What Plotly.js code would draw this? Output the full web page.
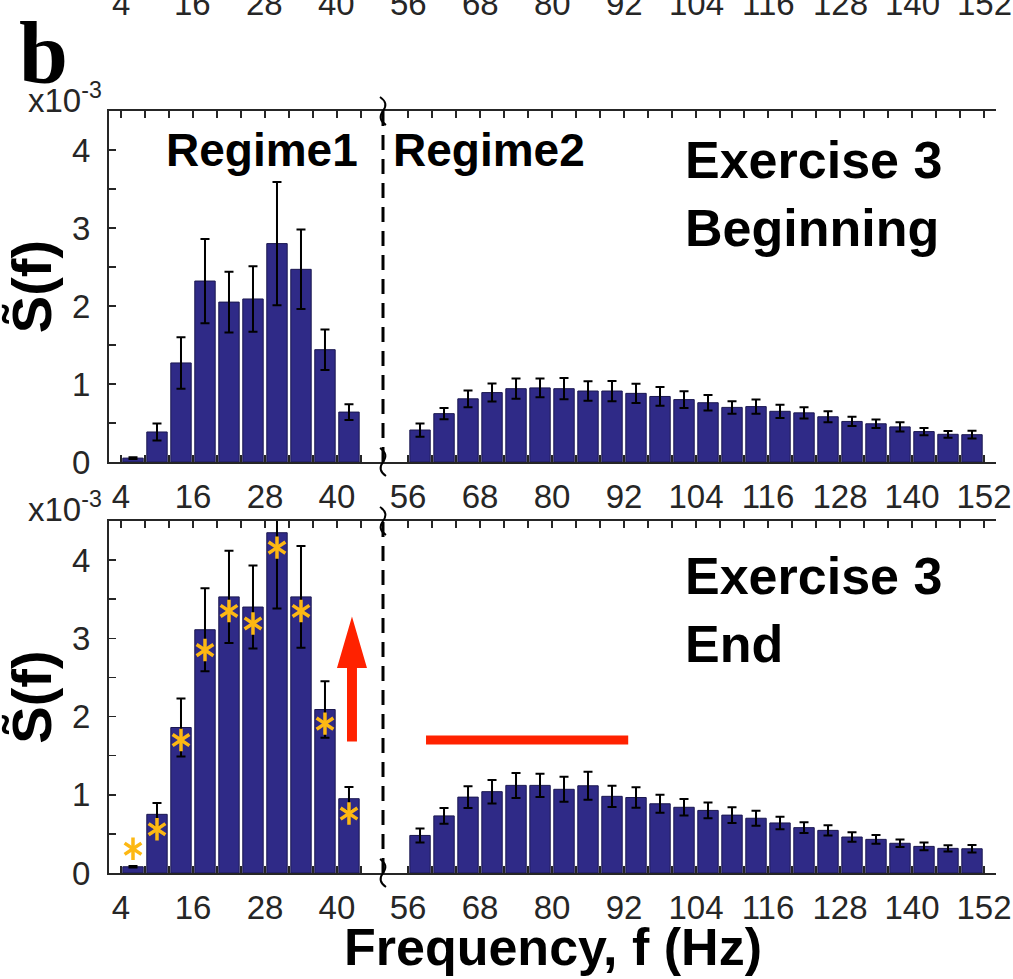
<!DOCTYPE html>
<html>
<head>
<meta charset="utf-8">
<script src="https://cdn.plot.ly/plotly-3.0.1.min.js"></script>
<style>html,body{margin:0;padding:0;background:#fff;}#chart{width:1013px;height:979px;}</style>
</head>
<body>
<div id="chart"></div>
<script>
// ---- data (values in units of 1e-3) ----
const regime1Freq = [6, 10, 14, 18, 22, 26, 30, 34, 38, 42];
const regime2Freq = [58, 62, 66, 70, 74, 78, 82, 86, 90, 94, 98, 102, 106, 110, 114, 118, 122, 126, 130, 134, 138, 142, 146, 150];

const begR1 = [0.05, 0.385, 1.27, 2.32, 2.05, 2.09, 2.80, 2.47, 1.44, 0.64];
const begR1Err = [0.01, 0.11, 0.33, 0.54, 0.39, 0.42, 0.79, 0.51, 0.26, 0.10];
const begR2 = [0.41, 0.62, 0.81, 0.89, 0.94, 0.95, 0.94, 0.91, 0.91, 0.88, 0.84, 0.80, 0.76, 0.70, 0.71, 0.65, 0.63, 0.58, 0.52, 0.49, 0.45, 0.39, 0.355, 0.35];
const begR2Err = [0.085, 0.073, 0.107, 0.115, 0.13, 0.12, 0.137, 0.124, 0.13, 0.124, 0.12, 0.107, 0.10, 0.08, 0.09, 0.085, 0.073, 0.07, 0.06, 0.055, 0.06, 0.047, 0.043, 0.05];

const endR1 = [0.08, 0.75, 1.86, 3.11, 3.53, 3.40, 4.35, 3.53, 2.09, 0.95];
const endR1Err = [0.01, 0.145, 0.37, 0.53, 0.59, 0.53, 0.97, 0.65, 0.36, 0.15];
const endR2 = [0.48, 0.73, 0.97, 1.04, 1.12, 1.12, 1.07, 1.115, 0.98, 0.965, 0.885, 0.84, 0.80, 0.74, 0.70, 0.64, 0.58, 0.545, 0.46, 0.43, 0.38, 0.34, 0.315, 0.31];
const endR2Err = [0.09, 0.10, 0.14, 0.15, 0.16, 0.15, 0.16, 0.18, 0.135, 0.13, 0.115, 0.105, 0.10, 0.10, 0.095, 0.08, 0.07, 0.065, 0.06, 0.055, 0.047, 0.05, 0.04, 0.047];

// significance markers (asterisks) in end panel, regime 1
const starY = [0.31, 0.56, 1.70, 2.85, 3.35, 3.19, 4.16, 3.35, 1.91, 0.76];

// tick labels
const r1TickLabels = [4, 16, 28, 40];
const r2TickLabels = [56, 68, 80, 92, 104, 116, 128, 140, 152];
const r1MinorTicks = [4, 8, 12, 16, 20, 24, 28, 32, 36, 40, 44];
const r2MinorTicks = [56, 60, 64, 68, 72, 76, 80, 84, 88, 92, 96, 100, 104, 108, 112, 116, 120, 124, 128, 132, 136, 140, 144, 148, 152];
const yTicks = [0, 1, 2, 3, 4];

// ---- style ----
const W = 1013, H = 979;
const M = {l: 109, r: 17, t: 111, b: 106};
const PW = W - M.l - M.r, PH = H - M.t - M.b;
const px2x = p => (p - M.l) / PW;
const py2y = p => (H - M.b - p) / PH;
const SPLIT = px2x(383);
const TOP_DOM = [py2y(462), 1];
const BOT_DOM = [0, py2y(521)];
const R1_RANGE = [2, 47.67];
const R2_RANGE = [51.83, 154];

const AX = '#262626';
const BAR = '#2f2a87';
const BAR_EDGE = '#1b1850';
const STAR = '#fdb813';
const TICKFONT = {family: 'Liberation Sans, Arial, sans-serif', size: 33, color: AX};
const BOLD = 'Liberation Sans, Arial, sans-serif';

function xAxis(domain, range, labels, minor, anchor) {
  return {
    domain: domain, range: range, anchor: anchor,
    showline: true, linecolor: AX, linewidth: 2, mirror: 'ticks',
    ticks: 'inside', ticklen: 7, tickwidth: 1.5, tickcolor: AX,
    tickmode: 'array', tickvals: labels, ticktext: labels.map(String),
    minor: {tickmode: 'array', tickvals: minor, ticks: 'inside', ticklen: 7, tickwidth: 1.5, tickcolor: AX},
    showgrid: false, zeroline: false, tickfont: TICKFONT, ticklabelstandoff: 4,
    fixedrange: true
  };
}
function yAxisLeft(domain, anchor) {
  return {
    domain: domain, range: [0, 4.5], anchor: anchor,
    showline: true, linecolor: AX, linewidth: 2,
    ticks: 'inside', ticklen: 7, tickwidth: 1.5, tickcolor: AX,
    tickmode: 'array', tickvals: yTicks,
    minor: {dtick: 0.5, tick0: 0, ticks: 'inside', ticklen: 7, tickwidth: 1.5, tickcolor: AX},
    showgrid: false, zeroline: false, tickfont: TICKFONT, ticklabelstandoff: 10,
    title: {text: '<b>S\u0303(f)</b>', font: {family: BOLD, size: 56, color: '#000'}, standoff: 2},
    fixedrange: true
  };
}
function yAxisRight(over, anchor) {
  return {
    overlaying: over, side: 'right', anchor: anchor, range: [0, 4.5],
    showline: true, linecolor: AX, linewidth: 2,
    ticks: 'inside', ticklen: 7, tickwidth: 1.5, tickcolor: AX,
    tickmode: 'array', tickvals: yTicks, showticklabels: false,
    minor: {dtick: 0.5, tick0: 0, ticks: 'inside', ticklen: 7, tickwidth: 1.5, tickcolor: AX},
    showgrid: false, zeroline: false, fixedrange: true
  };
}
function bars(x, y, err, xa, ya) {
  return {
    type: 'bar', x: x, y: y, xaxis: xa, yaxis: ya, width: 3.4,
    marker: {color: BAR, line: {color: BAR_EDGE, width: 1}},
    error_y: {type: 'data', array: err, visible: true, color: '#000', thickness: 2, width: 4.5},
    hoverinfo: 'x+y', showlegend: false
  };
}

const traces = [
  bars(regime1Freq, begR1, begR1Err, 'x', 'y'),
  bars(regime2Freq, begR2, begR2Err, 'x2', 'y'),
  bars(regime1Freq, endR1, endR1Err, 'x3', 'y3'),
  bars(regime2Freq, endR2, endR2Err, 'x4', 'y3'),
  {type: 'scatter', mode: 'markers', x: regime1Freq, y: starY, xaxis: 'x3', yaxis: 'y3',
   marker: {symbol: 'y-up-open', size: 14, color: STAR, line: {color: STAR, width: 3.5}}, showlegend: false, hoverinfo: 'skip'},
  {type: 'scatter', mode: 'markers', x: regime1Freq, y: starY, xaxis: 'x3', yaxis: 'y3',
   marker: {symbol: 'y-down-open', size: 14, color: STAR, line: {color: STAR, width: 3.5}}, showlegend: false, hoverinfo: 'skip'}
];

// break squiggle path (pixel offsets converted to paper units)
function squiggle(py) {
  const x = 383;
  const P = (dx, dy) => px2x(x + dx).toFixed(5) + ',' + py2y(py + dy).toFixed(5);
  return 'M ' + P(-3, -14) + ' Q ' + P(6, -8) + ' ' + P(0, 0) + ' Q ' + P(-6, 8) + ' ' + P(3, 14);
}
const squigStyle = {color: '#000', width: 2};

const shapes = [
  {type: 'line', xref: 'paper', yref: 'paper', x0: SPLIT, x1: SPLIT, y0: TOP_DOM[0], y1: TOP_DOM[1], line: {color: '#000', width: 3, dash: '15px,9px'}},
  {type: 'line', xref: 'paper', yref: 'paper', x0: SPLIT, x1: SPLIT, y0: BOT_DOM[0], y1: BOT_DOM[1], line: {color: '#000', width: 3, dash: '15px,9px'}},
  {type: 'path', xref: 'paper', yref: 'paper', path: squiggle(111), line: squigStyle},
  {type: 'path', xref: 'paper', yref: 'paper', path: squiggle(462), line: squigStyle},
  {type: 'path', xref: 'paper', yref: 'paper', path: squiggle(521), line: squigStyle},
  {type: 'path', xref: 'paper', yref: 'paper', path: squiggle(873), line: squigStyle},
  // red horizontal bar over regime 2 (end)
  {type: 'line', xref: 'x4', yref: 'y3', x0: 59, x1: 92.7, y0: 1.70, y1: 1.70, line: {color: '#ff2200', width: 9}},
  // red up arrow (end, regime 1)
  {type: 'path', xref: 'x3', yref: 'y3', fillcolor: '#ff2200', line: {width: 0},
   path: 'M 41.67,1.68 L 43.33,1.68 L 43.33,2.62 L 45,2.62 L 42.5,3.28 L 40,2.62 L 41.67,2.62 Z'}
];

const annotations = [
  {text: 'b', xref: 'paper', yref: 'paper', x: px2x(17), y: py2y(54), xanchor: 'left', yanchor: 'middle', showarrow: false,
   font: {family: 'Liberation Serif, DejaVu Serif, serif', size: 88, color: '#000', weight: 'bold'}},
  {text: 'x10<sup>-3</sup>', xref: 'paper', yref: 'paper', x: px2x(104), y: py2y(98), xanchor: 'right', yanchor: 'middle', showarrow: false, font: TICKFONT},
  {text: 'x10<sup>-3</sup>', xref: 'paper', yref: 'paper', x: px2x(104), y: py2y(507), xanchor: 'right', yanchor: 'middle', showarrow: false, font: TICKFONT},
  {text: '<b>Regime1</b>', xref: 'paper', yref: 'paper', x: px2x(262), y: py2y(150), xanchor: 'center', yanchor: 'middle', showarrow: false, font: {family: BOLD, size: 46, color: '#000'}},
  {text: '<b>Regime2</b>', xref: 'paper', yref: 'paper', x: px2x(489), y: py2y(150), xanchor: 'center', yanchor: 'middle', showarrow: false, font: {family: BOLD, size: 46, color: '#000'}},
  {text: '<b>Exercise 3<br>Beginning</b>', xref: 'paper', yref: 'paper', x: px2x(683), y: py2y(194), xanchor: 'left', yanchor: 'middle', align: 'left', showarrow: false, font: {family: BOLD, size: 52, color: '#000'}},
  {text: '<b>Exercise 3<br>End</b>', xref: 'paper', yref: 'paper', x: px2x(683), y: py2y(610), xanchor: 'left', yanchor: 'middle', align: 'left', showarrow: false, font: {family: BOLD, size: 52, color: '#000'}},
  {text: '<b>Frequency, f (Hz)</b>', xref: 'paper', yref: 'paper', x: px2x(553), y: py2y(947), xanchor: 'center', yanchor: 'middle', showarrow: false, font: {family: BOLD, size: 52, color: '#000'}}
];
// cut-off tick labels of the panel above (top strip)
r1TickLabels.forEach(v => annotations.push({text: String(v), xref: 'x', yref: 'paper', x: v, y: py2y(3), xanchor: 'center', yanchor: 'middle', showarrow: false, font: TICKFONT}));
r2TickLabels.forEach(v => annotations.push({text: String(v), xref: 'x2', yref: 'paper', x: v, y: py2y(3), xanchor: 'center', yanchor: 'middle', showarrow: false, font: TICKFONT}));

const layout = {
  width: W, height: H, margin: M, paper_bgcolor: '#fff', plot_bgcolor: '#fff',
  showlegend: false, bargap: 0,
  xaxis: xAxis([0, SPLIT], R1_RANGE, r1TickLabels, r1MinorTicks, 'y'),
  xaxis2: xAxis([SPLIT, 1], R2_RANGE, r2TickLabels, r2MinorTicks, 'y'),
  xaxis3: xAxis([0, SPLIT], R1_RANGE, r1TickLabels, r1MinorTicks, 'y3'),
  xaxis4: xAxis([SPLIT, 1], R2_RANGE, r2TickLabels, r2MinorTicks, 'y3'),
  yaxis: yAxisLeft(TOP_DOM, 'x'),
  yaxis2: yAxisRight('y', 'x2'),
  yaxis3: yAxisLeft(BOT_DOM, 'x3'),
  yaxis4: yAxisRight('y3', 'x4'),
  shapes: shapes, annotations: annotations
};

Plotly.newPlot('chart', traces, layout, {displayModeBar: false, staticPlot: true});
</script>
</body>
</html>
